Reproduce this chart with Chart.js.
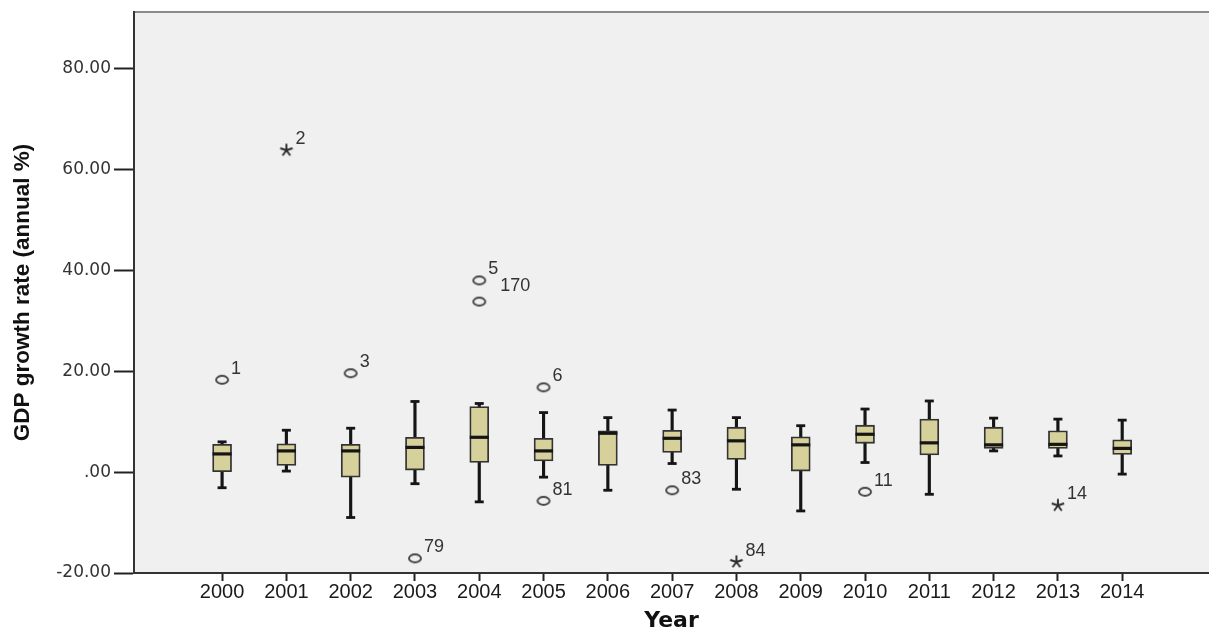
<!DOCTYPE html>
<html><head><meta charset="utf-8">
<script src="https://cdn.jsdelivr.net/npm/chart.js@4.4.1/dist/chart.umd.min.js"></script>
<style>html,body{margin:0;padding:0;background:#fff;}#wrap{width:1209px;height:630px;}</style>
</head><body><div id="wrap"><canvas id="c" width="1209" height="630"></canvas></div>
<script>
// ---- data ----
const years = [2000,2001,2002,2003,2004,2005,2006,2007,2008,2009,2010,2011,2012,2013,2014];
const whiskerLow  = [-3.1, 0.2,-9.0,-2.3,-5.9,-1.0,-3.6, 1.7,-3.4,-7.7, 1.9,-4.4, 4.2, 3.2,-0.4];
const quartile1   = [ 0.1, 1.3,-1.0, 0.4, 1.9, 2.2, 1.3, 3.9, 2.5, 0.2, 5.7, 3.4, 4.7, 4.7, 3.5];
const medians     = [ 3.6, 4.2, 4.2, 4.9, 6.9, 4.2, 7.7, 6.7, 6.2, 5.4, 7.5, 5.8, 5.4, 5.5, 4.7];
const quartile3   = [ 5.5, 5.6, 5.5, 6.9,13.0, 6.7, 8.2, 8.3, 8.9, 7.0, 9.3,10.5, 8.9, 8.2, 6.4];
const whiskerHigh = [ 6.0, 8.3, 8.7,14.0,13.6,11.8,10.8,12.3,10.8, 9.2,12.5,14.1,10.7,10.5,10.3];
const outlierYears  = [2000, 2002, 2003, 2004, 2004, 2005, 2005, 2007, 2010];
const outlierValues = [18.3, 19.6,-17.1, 38.0, 33.8, 16.8, -5.7, -3.6, -3.9];
const outlierLabels = ['1','3','79','5','170','6','81','83','11'];
const extremeYears  = [2001, 2008, 2013];
const extremeValues = [63.8,-17.8, -6.6];
const extremeLabels = ['2','84','14'];
const yTickValues = [-20, 0, 20, 40, 60, 80];
const xTickValues = years;
const yTitle = 'GDP growth rate (annual %)';
const xTitle = 'Year';

// ---- marker images ----
function circleMarker(){
  const c=document.createElement('canvas'); c.width=16; c.height=12;
  const g=c.getContext('2d'); g.strokeStyle='#454545'; g.lineWidth=1.9;
  g.beginPath(); g.ellipse(8,6,6.0,4.0,0,0,Math.PI*2); g.stroke(); return c;
}
function starMarker(){
  const c=document.createElement('canvas'); c.width=16; c.height=16;
  const g=c.getContext('2d'); g.strokeStyle='#2a2a2a'; g.lineWidth=1.9;
  for(let i=0;i<5;i++){const a=-Math.PI/2+i*2*Math.PI/5;
    g.beginPath(); g.moveTo(8,8); g.lineTo(8+6.5*Math.cos(a),8+6.5*Math.sin(a)); g.stroke();}
  return c;
}

const bgPlugin = {
  id:'bg',
  beforeDraw(chart){
    const {ctx, chartArea:a} = chart;
    ctx.save(); ctx.fillStyle='#F0F0F0'; ctx.fillRect(a.left,a.top,a.right-a.left,a.bottom-a.top);
    ctx.strokeStyle='#8a8a8a'; ctx.lineWidth=2; ctx.beginPath(); ctx.moveTo(a.left,a.top); ctx.lineTo(a.right,a.top); ctx.stroke();
    ctx.restore();
  }
};
const labelShift = {'170':[21,-16]};
const labelPlugin = {
  id:'outlierLabels',
  afterDatasetsDraw(chart){
    const ctx=chart.ctx; ctx.save();
    ctx.font='18px "Liberation Sans", Arial, sans-serif'; ctx.fillStyle='#333';
    ctx.textAlign='left'; ctx.textBaseline='middle';
    chart.data.datasets.forEach((ds,i)=>{
      if(!ds.pointLabels) return;
      chart.getDatasetMeta(i).data.forEach((pt,j)=>{
        const lab=ds.pointLabels[j]; const s=labelShift[lab]||[9,-11];
        ctx.fillText(lab, pt.x+s[0], pt.y+s[1]);
      });
    });
    ctx.restore();
  }
};

const dark='#151515';
new Chart(document.getElementById('c'), {
  type:'bar',
  data:{ datasets:[
    { type:'bar', data: years.map((y,i)=>({x:y,y:[whiskerLow[i],whiskerHigh[i]]})),
      backgroundColor:dark, barThickness:2.5, grouped:false, order:6 },
    { type:'bar', data: years.map((y,i)=>({x:y,y:[quartile1[i],quartile3[i]]})),
      backgroundColor:'#D6D19B', borderColor:'#333', borderWidth:1.8, borderSkipped:false,
      barThickness:19, grouped:false, order:5 },
    { type:'scatter', data: years.map((y,i)=>({x:y,y:whiskerLow[i]})).concat(years.map((y,i)=>({x:y,y:whiskerHigh[i]}))),
      pointStyle:'line', pointRadius:4.5, borderColor:dark, borderWidth:2.8, order:4 },
    { type:'scatter', data: years.map((y,i)=>({x:y,y:medians[i]})),
      pointStyle:'line', pointRadius:9.5, borderColor:dark, borderWidth:3.2, order:3 },
    { type:'scatter', data: outlierYears.map((y,i)=>({x:y,y:outlierValues[i]})),
      pointStyle:circleMarker(), pointRadius:6, order:2, pointLabels:outlierLabels },
    { type:'scatter', data: extremeYears.map((y,i)=>({x:y,y:extremeValues[i]})),
      pointStyle:starMarker(), pointRadius:6, order:1, pointLabels:extremeLabels }
  ]},
  options:{
    responsive:false, animation:false,
    layout:{autoPadding:false, padding:{top:12,right:0,bottom:0,left:0}},
    plugins:{legend:{display:false}, tooltip:{enabled:false}},
    scales:{
      x:{ type:'linear', min:1998.63, max:2015.35, offset:false,
        afterBuildTicks(s){ s.ticks = xTickValues.map(v=>({value:v})); },
        afterFit(s){ s.height = 57; s.paddingLeft = 0; s.paddingRight = 0; },
        ticks:{ callback:v=>String(v), color:'#1a1a1a', padding:1, maxRotation:0, autoSkip:false,
          font:{family:'"Liberation Sans", Arial, sans-serif', size:20, lineHeight:1} },
        grid:{ offset:false, drawOnChartArea:false, drawTicks:true, tickLength:8, tickColor:'#222', tickWidth:2 },
        border:{ display:true, color:'#333', width:2 },
        title:{ display:true, text:xTitle, color:'#111', padding:{top:0,bottom:-2},
          font:{family:'"DejaVu Sans", sans-serif', size:22, weight:'bold', lineHeight:1} }
      },
      y:{ type:'linear', min:-20, max:91.2,
        afterBuildTicks(s){ s.ticks = yTickValues.map(v=>({value:v})); },
        afterFit(s){ s.width = 134; s.paddingTop = 0; s.paddingBottom = 0; },
        ticks:{ callback:v=> v===0 ? '.00' : v.toFixed(2), color:'#333', padding:3,
          font:{family:'"DejaVu Sans", sans-serif', size:17} },
        grid:{ drawOnChartArea:false, drawTicks:true, tickLength:20, tickColor:'#222', tickWidth:2 },
        border:{ display:true, color:'#333', width:2 },
        title:{ display:true, text:yTitle, color:'#111', padding:{top:12,bottom:0},
          font:{family:'"Liberation Sans", Arial, sans-serif', size:22.5, weight:'bold', lineHeight:1} }
      }
    }
  },
  plugins:[bgPlugin,labelPlugin]
});
</script></body></html>
